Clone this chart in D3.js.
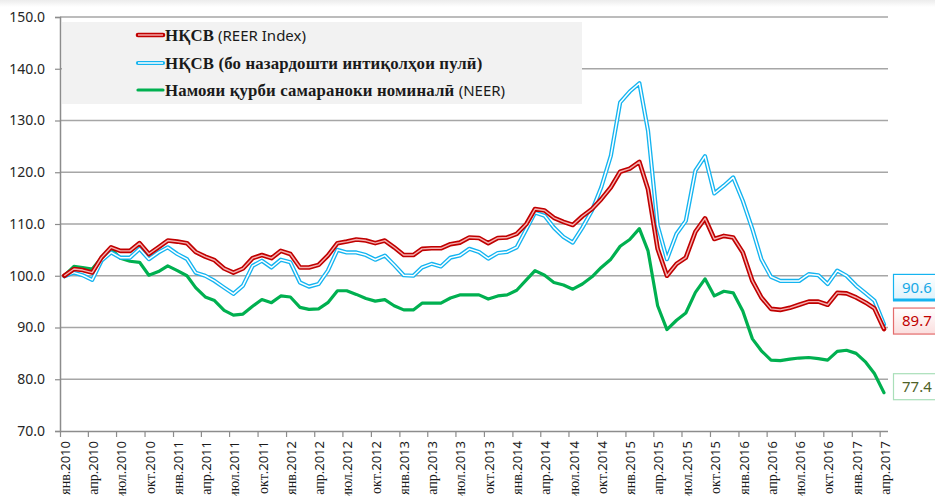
<!DOCTYPE html>
<html>
<head>
<meta charset="utf-8">
<script src="https://cdn.jsdelivr.net/npm/d3@7"></script>
<style>
  body { margin: 0; background: #fff; }
  svg { display: block; }
</style>
</head>
<body>
<svg id="chart" width="935" height="496"></svg>
<script>
// monthly series, Jan 2010 .. Apr 2017
var reer = [100.0, 101.3, 101.1, 100.6, 103.5, 105.5, 104.8, 104.8, 106.3, 104.2, 105.5, 106.8,
  106.6, 106.3, 104.6, 103.7, 103.0, 101.4, 100.6, 101.4, 103.4, 104.0, 103.4, 104.8,
  104.2, 101.6, 101.6, 102.1, 103.9, 106.3, 106.6, 107.0, 106.8, 106.3, 106.8, 105.5,
  104.0, 104.0, 105.2, 105.3, 105.3, 106.1, 106.4, 107.4, 107.3, 106.3, 107.3, 107.4,
  108.1, 110.0, 112.9, 112.6, 111.2, 110.4, 109.8, 111.5, 112.9, 114.8, 117.1, 120.1,
  120.7, 122.0, 116.7, 105.2, 100.0, 102.3, 103.5, 108.5, 111.1, 107.1, 107.7, 107.4,
  104.5, 99.0, 95.8, 93.6, 93.4, 93.8, 94.4, 95.0, 95.0, 94.4, 96.7, 96.6,
  95.8, 94.8, 93.7, 89.7];

var reerRemit = [99.9, 100.6, 100.1, 99.2, 102.9, 104.5, 103.5, 103.5, 105.2, 103.2, 104.5, 105.5,
  104.2, 103.2, 100.6, 100.0, 99.0, 97.7, 96.5, 98.1, 101.9, 102.9, 101.6, 103.1,
  102.6, 98.7, 97.9, 98.4, 101.0, 105.0, 104.5, 104.5, 104.0, 103.1, 103.9, 102.1,
  100.1, 100.0, 101.6, 102.3, 101.8, 103.5, 103.9, 105.2, 104.6, 103.3, 104.4, 104.6,
  105.5, 109.0, 112.2, 111.6, 109.3, 107.5, 106.4, 109.3, 112.6, 117.1, 123.2, 133.5,
  135.6, 137.2, 128.0, 109.7, 103.2, 108.1, 110.6, 120.3, 123.1, 115.9, 117.4, 119.0,
  114.5, 109.0, 103.2, 99.8, 99.0, 99.0, 99.0, 100.3, 100.1, 98.4, 101.0, 100.0,
  98.1, 96.6, 95.2, 90.6];

var neer = [100.0, 101.8, 101.6, 101.3, 103.5, 105.2, 103.4, 102.8, 102.6, 100.1, 100.8, 101.9,
  101.0, 100.0, 97.7, 95.9, 95.2, 93.3, 92.4, 92.6, 94.1, 95.4, 94.8, 96.1,
  95.9, 93.9, 93.5, 93.6, 94.8, 97.1, 97.1, 96.4, 95.6, 95.1, 95.4, 94.2,
  93.4, 93.4, 94.7, 94.7, 94.7, 95.7, 96.3, 96.3, 96.3, 95.5, 96.1, 96.3,
  97.2, 99.2, 101.0, 100.1, 98.7, 98.2, 97.4, 98.4, 99.8, 101.6, 103.2, 105.7,
  107.0, 109.1, 104.8, 94.2, 89.6, 91.4, 92.8, 96.8, 99.4, 96.1, 97.0, 96.7,
  93.2, 87.8, 85.5, 83.7, 83.6, 83.9, 84.1, 84.2, 84.0, 83.7, 85.4, 85.6,
  85.0, 83.3, 81.1, 77.4];

var tickLabels = [
  ["янв", "2010"], ["апр", "2010"], ["июл", "2010"], ["окт", "2010"],
  ["янв", "2011"], ["апр", "2011"], ["июл", "2011"], ["окт", "2011"],
  ["янв", "2012"], ["апр", "2012"], ["июл", "2012"], ["окт", "2012"],
  ["янв", "2013"], ["апр", "2013"], ["июл", "2013"], ["окт", "2013"],
  ["янв", "2014"], ["апр", "2014"], ["июл", "2014"], ["окт", "2014"],
  ["янв", "2015"], ["апр", "2015"], ["июл", "2015"], ["окт", "2015"],
  ["янв", "2016"], ["апр", "2016"], ["июл", "2016"], ["окт", "2016"],
  ["янв", "2017"], ["апр", "2017"]];

var seriesNames = [
  [["НҚСВ", "serif"], [" (REER Index)", "sans"]],
  [["НҚСВ (бо назардошти интиқолҳои пулӣ)", "serif"]],
  [["Намояи қурби самараноки номиналӣ ", "serif"], ["(NEER)", "sans"]]];

var SERIF = "'Liberation Serif', 'DejaVu Serif', serif";
var SANS = "'Noto Sans', 'DejaVu Sans', sans-serif";

var svg = d3.select("#chart");
var plotL = 60, plotR = 888, plotT = 17, plotB = 431;

// points sit mid-month, ticks at the first of each quarter month
var months = reer.map(function (d, i) { return new Date(2010, i, 15); });
var tickDates = tickLabels.map(function (d, i) { return new Date(2010, i * 3, 1); });

var x = d3.scaleTime()
    .domain([new Date(2010, 0, 1), new Date(2017, 3, 15)])
    .range([plotL, 884]);
var y = d3.scaleLinear().domain([70, 150]).range([plotB, plotT]);

// faint shade at the very top
var defs = svg.append("defs");
var sh = defs.append("linearGradient").attr("id", "topShade").attr("x1", 0).attr("x2", 0).attr("y1", 0).attr("y2", 1);
sh.append("stop").attr("offset", 0).attr("stop-color", "#ececec");
sh.append("stop").attr("offset", 1).attr("stop-color", "#ffffff");
svg.append("rect").attr("x", 0).attr("y", 0).attr("width", 935).attr("height", 7).attr("fill", "url(#topShade)");

// gridlines
svg.append("g").selectAll("line")
  .data(d3.range(80, 151, 10))
  .enter().append("line")
    .attr("x1", plotL).attr("x2", plotR)
    .attr("y1", function (d) { return y(d); }).attr("y2", function (d) { return y(d); })
    .attr("stroke", "#a6a6a6").attr("stroke-width", 1.5);

// y axis
var yAxis = svg.append("g")
    .attr("transform", "translate(" + plotL + ",0)")
    .call(d3.axisLeft(y).tickValues(d3.range(70, 151, 10)).tickFormat(d3.format(".1f")).tickSize(5).tickPadding(10));
yAxis.select(".domain").attr("stroke", "#8c8c8c").attr("stroke-width", 1.5);
yAxis.selectAll(".tick line").attr("stroke", "#8c8c8c").attr("stroke-width", 1.2);
yAxis.selectAll(".tick text").attr("font-family", SANS).attr("font-size", 14).attr("fill", "#262626");

// x axis
var xAxis = svg.append("g")
    .attr("transform", "translate(0," + plotB + ")")
    .call(d3.axisBottom(x).tickValues(tickDates).tickSize(6).tickFormat(""));
xAxis.select(".domain").attr("d", "M" + plotL + ",0.5H" + plotR).attr("stroke", "#8c8c8c").attr("stroke-width", 1.5);
xAxis.selectAll(".tick line").attr("stroke", "#8c8c8c").attr("stroke-width", 1.2);
xAxis.selectAll(".tick text").remove();
xAxis.selectAll(".tick").each(function (d, i) {
  var t = d3.select(this).append("text")
      .attr("transform", "translate(5,10) rotate(-90)")
      .attr("text-anchor", "end")
      .attr("dy", "0.35em")
      .attr("font-size", 13)
      .attr("fill", "#1a1a1a");
  t.append("tspan").attr("font-family", SERIF).attr("font-size", 14).text(tickLabels[i][0]);
  t.append("tspan").attr("font-family", SANS).text("." + tickLabels[i][1]);
});

// legend box
svg.append("rect").attr("x", 62).attr("y", 22).attr("width", 520).attr("height", 82).attr("fill", "#f2f2f2");

var line = d3.line()
    .x(function (d, i) { return x(months[i]); })
    .y(function (d) { return y(d); });

var styles = [
  { outer: "#c00000", outerW: 4.6, inner: "#f6b0b0", innerW: 1.4 },
  { outer: "#14b4f0", outerW: 4.2, inner: "#ffffff", innerW: 1.5 },
  { outer: "#00b050", outerW: 3.2, inner: null }
];
var seriesData = [reer, reerRemit, neer];

// draw back to front: green, blue, red
[2, 1, 0].forEach(function (k) {
  var s = styles[k];
  svg.append("path").datum(seriesData[k])
    .attr("d", line).attr("fill", "none")
    .attr("stroke", s.outer).attr("stroke-width", s.outerW)
    .attr("stroke-linejoin", "round").attr("stroke-linecap", "round");
  if (s.inner) {
    svg.append("path").datum(seriesData[k])
      .attr("d", line).attr("fill", "none")
      .attr("stroke", s.inner).attr("stroke-width", s.innerW)
      .attr("stroke-linejoin", "round");
  }
});

// legend entries
var legendY = [35, 63, 90];
seriesNames.forEach(function (parts, k) {
  var s = styles[k], ly = legendY[k];
  svg.append("line").attr("x1", 138).attr("x2", 163).attr("y1", ly).attr("y2", ly)
    .attr("stroke", s.outer).attr("stroke-width", s.outerW).attr("stroke-linecap", "round");
  if (s.inner) {
    svg.append("line").attr("x1", 138).attr("x2", 163).attr("y1", ly).attr("y2", ly)
      .attr("stroke", s.inner).attr("stroke-width", s.innerW);
  }
  var t = svg.append("text").attr("x", 165).attr("y", ly).attr("dy", "0.35em").attr("fill", "#1a1a1a");
  parts.forEach(function (p) {
    var ts = t.append("tspan").text(p[0]);
    if (p[1] === "serif") ts.attr("font-family", SERIF).attr("font-weight", "bold").attr("font-size", 16.8).attr("letter-spacing", 0.15);
    else ts.attr("font-family", SANS).attr("font-size", 15);
  });
});

// end value labels
var endLabels = [
  { v: reerRemit[reerRemit.length - 1], shift: -37, text: "#14a8e6", border: "#14b4f0", fill: "#ddf2fb", thick: "#14b4f0" },
  { v: reer[reer.length - 1], shift: -8, text: "#c00000", border: "#e46c6c", fill: "#fbdede", thick: null },
  { v: neer[neer.length - 1], shift: -6, text: "#4f6228", border: "#a9dfb9", fill: "#ffffff", thick: null }
];
endLabels.forEach(function (e, k) {
  var cy = y(e.v) + e.shift;
  var gid = "lblGrad" + k;
  var g = defs.append("linearGradient").attr("id", gid).attr("x1", 0).attr("x2", 0).attr("y1", 0).attr("y2", 1);
  g.append("stop").attr("offset", 0).attr("stop-color", "#ffffff");
  g.append("stop").attr("offset", 1).attr("stop-color", e.fill);
  svg.append("rect").attr("x", 893.5).attr("y", cy - 13).attr("width", 50).attr("height", 26)
    .attr("fill", "url(#" + gid + ")").attr("stroke", e.border).attr("stroke-width", 1.2);
  if (e.thick) {
    svg.append("line").attr("x1", 893).attr("x2", 935).attr("y1", cy + 12.5).attr("y2", cy + 12.5)
      .attr("stroke", e.thick).attr("stroke-width", 3);
  }
  svg.append("text").attr("x", 902).attr("y", cy).attr("dy", "0.36em")
    .attr("font-family", SANS).attr("font-size", 15).attr("fill", e.text)
    .text(d3.format(".1f")(e.v));
});
</script>
</body>
</html>
